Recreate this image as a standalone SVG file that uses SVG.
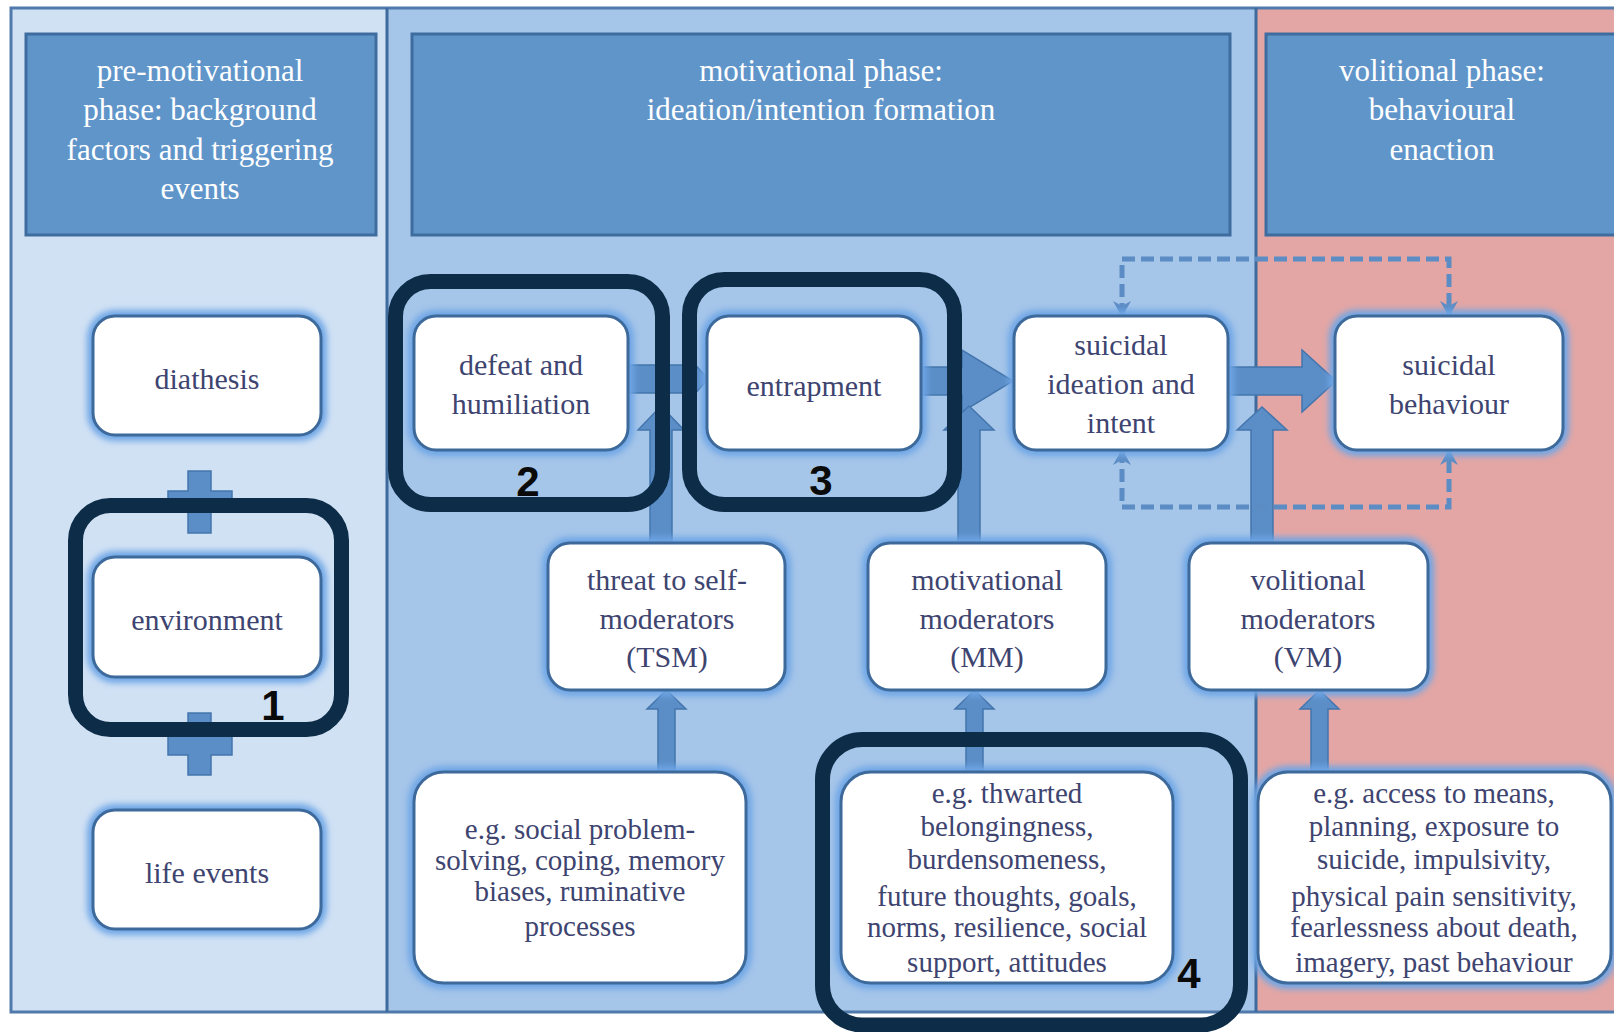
<svg xmlns="http://www.w3.org/2000/svg" width="1614" height="1032" viewBox="0 0 1614 1032">
<style>
.hdr{fill:#6095ca;stroke:#3e6c9e;stroke-width:3}
.htxt{font-family:"Liberation Serif",serif;font-size:31px;fill:#ffffff;text-anchor:middle}
.halo{fill:none;stroke:#6ea6e6;stroke-width:12;filter:url(#blur)}
.box{fill:#ffffff;stroke:#3d6a9b;stroke-width:3}
.t{font-family:"Liberation Serif",serif;font-size:30px;fill:#3e4470;text-anchor:middle}
.te{font-family:"Liberation Serif",serif;font-size:29px;fill:#3e4470;text-anchor:middle}
.blk{fill:#5b8ec7;stroke:#4475ad;stroke-width:1.5}
.dash{fill:none;stroke:#5b8cc4;stroke-width:5;stroke-dasharray:13 6}
.ann{fill:none;stroke:#0c2c48;stroke-width:15}
.lbl{font-family:"Liberation Sans",sans-serif;font-weight:bold;font-size:42px;fill:#0a0a0a;text-anchor:middle}
</style>
<defs>
<filter id="blur" x="-20%" y="-20%" width="140%" height="140%"><feGaussianBlur stdDeviation="3"/></filter>
<marker id="ah" viewBox="0 0 16 20" refX="15" refY="10" markerWidth="16" markerHeight="20" markerUnits="userSpaceOnUse" orient="auto-start-reverse">
<path d="M0,1 L16,10 L0,19 L5,10 Z" fill="#5b8cc4"/>
</marker>
</defs>
<rect x="0" y="0" width="1614" height="1032" fill="#ffffff"/>
<g id="background">
<rect x="11" y="8" width="376" height="1004" fill="#d0e1f4"/>
<rect x="387" y="8" width="869" height="1004" fill="#a5c5e9"/>
<rect x="1256" y="8" width="360" height="1004" fill="#e3a6a4"/>
<rect x="11" y="8" width="1610" height="1004" fill="none" stroke="#4f7aab" stroke-width="3"/>
<line x1="387" y1="8" x2="387" y2="1012" stroke="#3e6a9c" stroke-width="3"/>
<line x1="1256" y1="8" x2="1256" y2="1012" stroke="#3e6a9c" stroke-width="3"/>
</g>
<g id="headers">
<g id="h-premotivational">
<rect class="hdr" x="26" y="34" width="350" height="201"/>
<text class="htxt" x="200" y="81">pre-motivational</text>
<text class="htxt" x="200" y="120">phase: background</text>
<text class="htxt" x="200" y="160">factors and triggering</text>
<text class="htxt" x="200" y="199">events</text>
</g>
<g id="h-motivational">
<rect class="hdr" x="412" y="34" width="818" height="201"/>
<text class="htxt" x="821" y="81">motivational phase:</text>
<text class="htxt" x="821" y="120">ideation/intention formation</text>
</g>
<g id="h-volitional">
<rect class="hdr" x="1266" y="34" width="360" height="201"/>
<text class="htxt" x="1442" y="81">volitional phase:</text>
<text class="htxt" x="1442" y="120">behavioural</text>
<text class="htxt" x="1442" y="160">enaction</text>
</g>
</g>
<g id="connectors">
<polygon class="blk" points="188,471 211,471 211,491 232,491 232,512 211,512 211,533 188,533 188,512 168,512 168,491 188,491"/>
<polygon class="blk" points="188,713 211,713 211,735 232,735 232,755 211,755 211,775 188,775 188,755 168,755 168,735 188,735"/>
<polygon class="blk" points="620,365 684,365 684,352 708,379 684,406 684,393 620,393"/>
<polygon class="blk" points="915,367 962,367 962,350 1013,381 962,412 962,395 915,395"/>
<polygon class="blk" points="1222,367 1302,367 1302,350 1336,381 1302,412 1302,395 1222,395"/>
<polygon class="blk" points="650,550 650,430 638,430 661,406 684,430 672,430 672,550"/>
<polygon class="blk" points="958,550 958,430 944,430 969,406 994,430 980,430 980,550"/>
<polygon class="blk" points="1251,550 1251,430 1237,430 1262,407 1287,430 1273,430 1273,550"/>
<polygon class="blk" points="658,778 658,709 647,709 666.5,690 686,709 675,709 675,778"/>
<polygon class="blk" points="966,778 966,709 955,709 974.5,690 994,709 983,709 983,778"/>
<polygon class="blk" points="1311,778 1311,709 1300,709 1319.5,690 1339,709 1328,709 1328,778"/>
<path class="dash" d="M1122,316 L1122,259 L1449,259 L1449,316" marker-start="url(#ah)" marker-end="url(#ah)"/>
<path class="dash" d="M1122,450 L1122,507 L1449,507 L1449,450" marker-start="url(#ah)" marker-end="url(#ah)"/>
</g>
<g id="n-diathesis">
<rect class="halo" x="93" y="316" width="228" height="119" rx="22"/>
<rect class="box" x="93" y="316" width="228" height="119" rx="22"/>
<text class="t" x="207" y="389">diathesis</text>
</g>
<g id="n-environment">
<rect class="halo" x="93" y="557" width="228" height="120" rx="22"/>
<rect class="box" x="93" y="557" width="228" height="120" rx="22"/>
<text class="t" x="207" y="630">environment</text>
</g>
<g id="n-life-events">
<rect class="halo" x="93" y="810" width="228" height="119" rx="22"/>
<rect class="box" x="93" y="810" width="228" height="119" rx="22"/>
<text class="t" x="207" y="883">life events</text>
</g>
<g id="n-defeat">
<rect class="halo" x="414" y="316" width="214" height="134" rx="22"/>
<rect class="box" x="414" y="316" width="214" height="134" rx="22"/>
<text class="t" x="521" y="375">defeat and</text>
<text class="t" x="521" y="414">humiliation</text>
</g>
<g id="n-entrapment">
<rect class="halo" x="707" y="316" width="214" height="134" rx="22"/>
<rect class="box" x="707" y="316" width="214" height="134" rx="22"/>
<text class="t" x="814" y="396">entrapment</text>
</g>
<g id="n-ideation">
<rect class="halo" x="1014" y="316" width="214" height="134" rx="22"/>
<rect class="box" x="1014" y="316" width="214" height="134" rx="22"/>
<text class="t" x="1121" y="355">suicidal</text>
<text class="t" x="1121" y="394">ideation and</text>
<text class="t" x="1121" y="433">intent</text>
</g>
<g id="n-behaviour">
<rect class="halo" x="1335" y="316" width="228" height="134" rx="22"/>
<rect class="box" x="1335" y="316" width="228" height="134" rx="22"/>
<text class="t" x="1449" y="375">suicidal</text>
<text class="t" x="1449" y="414">behaviour</text>
</g>
<g id="n-tsm">
<rect class="halo" x="548" y="543" width="237" height="147" rx="22"/>
<rect class="box" x="548" y="543" width="237" height="147" rx="22"/>
<text class="t" x="667" y="590">threat to self-</text>
<text class="t" x="667" y="629">moderators</text>
<text class="t" x="667" y="667">(TSM)</text>
</g>
<g id="n-mm">
<rect class="halo" x="868" y="543" width="238" height="147" rx="22"/>
<rect class="box" x="868" y="543" width="238" height="147" rx="22"/>
<text class="t" x="987" y="590">motivational</text>
<text class="t" x="987" y="629">moderators</text>
<text class="t" x="987" y="667">(MM)</text>
</g>
<g id="n-vm">
<rect class="halo" x="1189" y="543" width="239" height="147" rx="22"/>
<rect class="box" x="1189" y="543" width="239" height="147" rx="22"/>
<text class="t" x="1308" y="590">volitional</text>
<text class="t" x="1308" y="629">moderators</text>
<text class="t" x="1308" y="667">(VM)</text>
</g>
<g id="n-tsm-examples">
<rect class="halo" x="414" y="772" width="332" height="211" rx="30"/>
<rect class="box" x="414" y="772" width="332" height="211" rx="30"/>
<text class="te" x="580" y="839">e.g. social problem-</text>
<text class="te" x="580" y="870">solving, coping, memory</text>
<text class="te" x="580" y="901">biases, ruminative</text>
<text class="te" x="580" y="936">processes</text>
</g>
<g id="n-mm-examples">
<rect class="halo" x="841" y="772" width="332" height="211" rx="30"/>
<rect class="box" x="841" y="772" width="332" height="211" rx="30"/>
<text class="te" x="1007" y="803">e.g. thwarted</text>
<text class="te" x="1007" y="836">belongingness,</text>
<text class="te" x="1007" y="869">burdensomeness,</text>
<text class="te" x="1007" y="906">future thoughts, goals,</text>
<text class="te" x="1007" y="937">norms, resilience, social</text>
<text class="te" x="1007" y="972">support, attitudes</text>
</g>
<g id="n-vm-examples">
<rect class="halo" x="1258" y="772" width="353" height="211" rx="30"/>
<rect class="box" x="1258" y="772" width="353" height="211" rx="30"/>
<text class="te" x="1434" y="803">e.g. access to means,</text>
<text class="te" x="1434" y="836">planning, exposure to</text>
<text class="te" x="1434" y="869">suicide, impulsivity,</text>
<text class="te" x="1434" y="906">physical pain sensitivity,</text>
<text class="te" x="1434" y="937">fearlessness about death,</text>
<text class="te" x="1434" y="972">imagery, past behaviour</text>
</g>
<g id="annotations">
<rect class="ann" x="75.5" y="505.5" width="266" height="224" rx="35"/>
<text class="lbl" x="273" y="720">1</text>
<rect class="ann" x="395.5" y="281.5" width="267" height="223" rx="35"/>
<text class="lbl" x="528" y="496">2</text>
<rect class="ann" x="689.5" y="279.5" width="265" height="225" rx="35"/>
<text class="lbl" x="821" y="495">3</text>
<rect class="ann" x="822.5" y="739.5" width="418" height="285.5" rx="40"/>
<text class="lbl" x="1189" y="988">4</text>
</g>
</svg>
